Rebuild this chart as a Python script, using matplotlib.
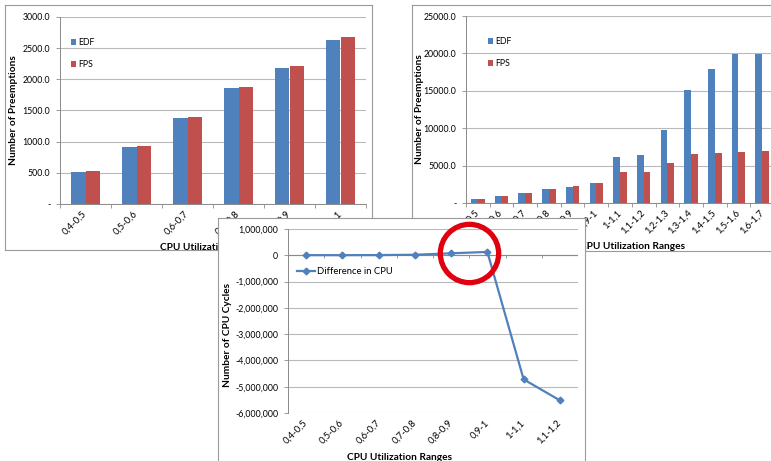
"""Three overlapping Excel-style charts: preemptions (EDF vs FPS) and CPU-cycle difference."""

import matplotlib.pyplot as plt
from matplotlib import ticker
from matplotlib.patches import Patch
import numpy as np

# ---- data -------------------------------------------------------------
RANGES_LOW = ["0,4-0,5", "0,5-0,6", "0,6-0,7", "0,7-0,8", "0,8-0,9", "0,9-1"]
EDF_LOW = [520, 920, 1383, 1864, 2180, 2633]
FPS_LOW = [530, 929, 1388, 1869, 2206, 2687]

RANGES_ALL = [
    "0,4-0,5", "0,5-0,6", "0,6-0,7", "0,7-0,8", "0,8-0,9", "0,9-1",
    "1-1,1", "1,1-1,2", "1,2-1,3", "1,3-1,4", "1,4-1,5", "1,5-1,6", "1,6-1,7",
]
EDF_ALL = [520, 920, 1383, 1864, 2180, 2633, 6190, 6420, 9760, 15100, 17900, 19870, 19870]
FPS_ALL = [530, 929, 1388, 1869, 2206, 2687, 4180, 4120, 5390, 6500, 6720, 6860, 6920]

RANGES_CPU = ["0,4-0,5", "0,5-0,6", "0,6-0,7", "0,7-0,8", "0,8-0,9", "0,9-1", "1-1,1", "1,1-1,2"]
CPU_DIFF = [5000, 5000, 8000, 20000, 76000, 127000, -4720000, -5520000]

# ---- style ------------------------------------------------------------
W, H = 771, 461
BLUE = "#4F81BD"
RED = "#C0504D"
GRID = "#b9b9b9"
FRAME = "#9a9a9a"
AXIS = "#8a8a8a"
FONT = "Lato"
TICK_FS = 6.3
XTICK_FS = 6.8
TITLE_FS = 7.3

plt.rcParams.update({"font.family": FONT, "font.size": 6})


def rect(x0, y0, x1, y1):
    """Pixel box (top-left origin) -> figure fraction rect."""
    return [x0 / W, 1 - y1 / H, (x1 - x0) / W, (y1 - y0) / H]


def add_frame(fig, box, z):
    fr = fig.add_axes(rect(*box), zorder=z)
    fr.set_xticks([])
    fr.set_yticks([])
    fr.set_facecolor("white")
    for s in fr.spines.values():
        s.set_color(FRAME)
        s.set_linewidth(0.8)
    return fr


def style_axes(ax, labels):
    n = len(labels)
    ax.set_facecolor("none")
    ax.set_xlim(-0.5, n - 0.5)
    ax.set_xticks(range(n))
    ax.set_xticklabels(labels, rotation=45, ha="right", va="center",
                       rotation_mode="anchor")
    ax.set_xticks(np.arange(n + 1) - 0.5, minor=True)
    ax.tick_params(axis="x", which="major", length=0, pad=6, labelsize=XTICK_FS)
    ax.tick_params(axis="x", which="minor", length=3, width=0.6, color=AXIS)
    ax.tick_params(axis="y", length=3, width=0.6, color=AXIS, pad=4, labelsize=TICK_FS)
    ax.grid(axis="y", color=GRID, linewidth=0.8)
    ax.set_axisbelow(True)
    for s in ("top", "right"):
        ax.spines[s].set_visible(False)
    for s in ("left", "bottom"):
        ax.spines[s].set_color(AXIS)
        ax.spines[s].set_linewidth(0.7)


def bar_panel(fig, box, plot_box, z, labels, edf, fps, ymax, step, xlab_x, leg_xy):
    add_frame(fig, box, z)
    ax = fig.add_axes(rect(*plot_box), zorder=z + 1)
    x = np.arange(len(labels))
    bw = 0.286
    ax.bar(x - bw / 2, edf, bw, color=BLUE, zorder=2)
    ax.bar(x + bw / 2, fps, bw, color=RED, zorder=2)
    style_axes(ax, labels)
    ax.set_ylim(0, ymax)
    ax.yaxis.set_major_locator(ticker.MultipleLocator(step))
    ax.yaxis.set_major_formatter(
        ticker.FuncFormatter(lambda v, _: "-" if v == 0 else f"{v:.1f}"))
    ax.set_xlabel("CPU Utilization Ranges", fontsize=TITLE_FS, fontweight="bold")
    ax.set_ylabel("Number of Preemptions", fontsize=TITLE_FS, fontweight="bold")
    ax.xaxis.set_label_coords(xlab_x, -0.209)
    ax.yaxis.set_label_coords(-0.137, 0.5)
    handles = [Patch(facecolor=BLUE, label="EDF"), Patch(facecolor=RED, label="FPS")]
    ax.legend(handles=handles, loc="upper left", bbox_to_anchor=leg_xy, frameon=False,
              handlelength=0.55, handleheight=0.55, handletextpad=0.3,
              labelspacing=1.5, fontsize=6.3)
    return ax


fig = plt.figure(figsize=(W / 100, H / 100), dpi=100)
fig.patch.set_facecolor("white")

# panel 1: low utilisation ranges
bar_panel(fig, (5, 5, 372, 250), (60, 17, 366, 204), 1,
          RANGES_LOW, EDF_LOW, FPS_LOW, 3000, 500,
          0.5, (0.01, 0.93))

# panel 2: all ranges (runs off the right edge)
bar_panel(fig, (412, 5, 800, 251), (466, 16, 774, 203), 3,
          RANGES_ALL, EDF_ALL, FPS_ALL, 25000, 5000,
          0.54, (0.045, 0.93))

# panel 3: CPU cycle difference
add_frame(fig, (218, 218, 585, 475), 5)
ax3 = fig.add_axes(rect(288, 229, 578, 413), zorder=6)
n3 = len(RANGES_CPU)
x3 = np.arange(n3)
style_axes(ax3, RANGES_CPU)
ax3.tick_params(axis="x", which="minor", length=0)
ax3.spines["bottom"].set_visible(False)
ax3.set_ylim(-6000000, 1000000)
ax3.yaxis.set_major_locator(ticker.MultipleLocator(1000000))
ax3.yaxis.set_major_formatter(ticker.FuncFormatter(lambda v, _: f"{v:,.0f}"))
ax3.axhline(0, color=AXIS, linewidth=0.8, zorder=1)
ax3.vlines(np.arange(n3 + 1) - 0.5, -110000, 0, color=AXIS, linewidth=0.6, zorder=1)
ax3.plot(x3, CPU_DIFF, color=BLUE, linewidth=1.6, marker="D", markersize=3.4,
         zorder=3, label="Difference in CPU")
ax3.set_xlabel("CPU Utilization Ranges", fontsize=TITLE_FS, fontweight="bold")
ax3.set_ylabel("Number of CPU Cycles", fontsize=TITLE_FS, fontweight="bold")
ax3.xaxis.set_label_coords(0.385, -0.215)
ax3.yaxis.set_label_coords(-0.193, 0.424)
ax3.legend(loc="upper left", bbox_to_anchor=(0.0, 0.84), frameon=False,
           handlelength=2.0, handletextpad=0.2, fontsize=6.8)

# red highlight circle between the 0,8-0,9 and 0,9-1 points
cx = (x3[4] + x3[5]) / 2
cy = (CPU_DIFF[4] + CPU_DIFF[5]) / 2
ax3.plot(cx, cy, "o", markersize=42, markerfacecolor="none",
         markeredgecolor="#e0000f", markeredgewidth=3.8, zorder=4, clip_on=False)

fig.savefig("out.png", dpi=100, facecolor="white")
